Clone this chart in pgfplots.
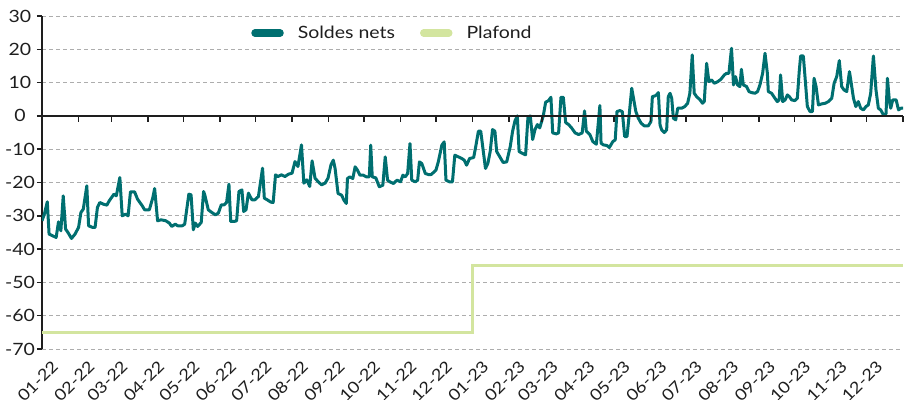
\documentclass[border=0pt]{standalone}
\usepackage{pgfplots}
\pgfplotsset{compat=1.18}
\usepackage{fontspec}
\setmainfont{Lato}[FakeStretch=1.15]
\definecolor{teal1}{HTML}{006F70}
\definecolor{plaf}{HTML}{D3E59F}
\definecolor{gridc}{HTML}{ADADAD}
\definecolor{txt}{HTML}{1E1E1E}
\begin{document}
\begin{tikzpicture}
\path[use as bounding box] (0,0) rectangle (912bp,400bp);
\begin{axis}[
  at={(42bp,51bp)}, anchor=south west,
  scale only axis, width=861bp, height=333bp,
  xmin=0, xmax=730, ymin=-70, ymax=30,
  axis y line*=left, axis x line*=bottom,
  x axis line style={draw=none},
  y axis line style={-, line width=1.5bp, color=txt},
  xtick={0,31,59,90,120,151,181,212,243,273,304,334,365,396,424,455,485,516,546,577,608,638,669,699},
  xticklabels={01-22,02-22,03-22,04-22,05-22,06-22,07-22,08-22,09-22,10-22,11-22,12-22,01-23,02-23,03-23,04-23,05-23,06-23,07-23,08-23,09-23,10-23,11-23,12-23},
  xtick style={draw=none},
  ytick={-70,-60,...,30},
  ytick style={line width=1.5bp, color=txt},
  ytick align=outside, major tick length=5bp,
  ymajorgrids,
  grid style={gridc, line width=0.8bp, dash pattern=on 4bp off 3bp},
  tick label style={font=\fontsize{17}{19}\selectfont, text=txt},
  /pgf/number format/assume math mode=true,
  yticklabel style={anchor=center, xshift=-17bp},
  xticklabel style={font=\fontsize{16}{18}\selectfont, xshift=9bp, yshift=-9bp, rotate=45, anchor=north east, inner sep=1bp},
  legend style={at={(rel axis cs:0.407,0.949)}, anchor=center, draw=none, fill=none,
    font=\fontsize{17}{19}\selectfont, text=txt, legend columns=2,
    /tikz/every odd column/.append style={column sep=12bp},
    /tikz/every even column/.append style={column sep=23bp}},
  legend image code/.code={\draw[#1, line width=7.5bp, line cap=round] (0bp,0bp) -- (25bp,0bp);},
]
\addplot[teal1, line width=3bp, line join=round] coordinates {
(0,-31.5) (2,-29.5) (4.5,-25.8) (6,-35.5) (9,-36) (12,-36.5) (14,-31.8) (16,-34.5) (18,-24) (20,-34)
(22,-35) (25,-36.8) (28,-35.5) (31,-33.5) (33,-29) (35,-28) (38,-21) (39.5,-33) (43,-33.5) (45,-33.5)
(47,-27.5) (49,-26) (52,-26.5) (55,-26.8) (57,-25.5) (61,-23.5) (63,-24) (66,-18.5) (68,-30) (71,-29.5)
(73,-30) (75,-22.8) (78.5,-22.8) (81,-25) (85,-27) (87,-28.2) (91,-28.2) (94,-24.5) (95.5,-21.8) (98,-31.5)
(101,-31.2) (105,-31.5) (108,-32.2) (110,-33.2) (113,-32.5) (115,-33) (119,-33) (121,-32.5) (124.5,-23.5) (126.4,-23.7)
(128.3,-34.2) (130,-32.2) (132,-33.2) (135,-32) (137,-22.7) (138,-23.7) (141,-28.2) (144,-29) (147,-29.7) (149.5,-29.2)
(152,-26.7) (154.5,-26.7) (156.5,-26) (158.5,-20.5) (160,-31.7) (163,-31.7) (165,-31.5) (167,-22.7) (169.5,-22.2) (171,-28.7)
(173,-28.2) (175,-23.2) (178,-25.2) (180.5,-25.2) (183.5,-24.2) (187,-15.7) (188.5,-24.7) (191,-25.2) (194,-25.9) (196,-26)
(198,-17.7) (200,-18.2) (203,-17.7) (206,-18.2) (209,-17.5) (212,-17.2) (214.5,-13.7) (217,-15.2) (220,-8.7) (222,-20.2)
(224.5,-19.2) (227,-21.2) (229,-13.5) (231.5,-18.7) (234,-19.7) (237,-20.7) (240,-20.2) (242.5,-18.7) (245,-14.7) (247,-13.3)
(248.5,-15.8) (251,-23.3) (254,-23.8) (256,-25.3) (258,-26.3) (259,-18.8) (261,-18.3) (263.5,-18.8) (265.5,-15.3) (267.5,-16.3)
(269.6,-17.8) (272.4,-17.8) (275,-18.3) (277.5,-18.3) (278.7,-8.8) (280,-18.3) (283,-18.6) (286,-21.3) (289,-20.8) (291,-12.3)
(293,-19.3) (295,-19.8) (298,-20.3) (301,-19.3) (304,-19.8) (306,-17.8) (308,-18.3) (310,-17.3) (312,-8.3) (313.5,-19.3)
(316.5,-19.8) (318.5,-19.3) (320,-13.8) (322,-14.3) (325,-17.3) (327.5,-17.6) (330,-17.6) (334,-16.3) (336,-13.8) (339,-8.8)
(341,-7.8) (342.5,-19.3) (345.5,-19.8) (348,-19.8) (350,-11.8) (353,-12.3) (356,-12.8) (358,-13.3) (360,-14.8) (362.5,-12.8)
(366,-12.5) (368,-8.7) (370,-4.6) (372,-4.6) (374,-10.2) (376,-15.8) (378,-14.3) (380,-10.7) (382,-4.1) (384,-4.6)
(385.5,-10.7) (388,-12.2) (391,-14) (394,-13.8) (397,-9.2) (399,-4.6) (401,-1.5) (403,0) (404.5,-10.7) (407,-11.2)
(410,-11.7) (412,-0.5) (414,0) (416,-7.1) (418,-4.1) (420,-2.6) (422,-3.6) (425,0) (427,4.1) (429.5,4.6)
(431.5,5.6) (433,-5.1) (436,-5.4) (438,-5.1) (440,5.6) (442,5.6) (444,-2) (446.5,-2.6) (449,-3.6) (452,-5.1)
(455,-5.6) (458,-5.1) (460,1.5) (461.5,-4.6) (464.5,-5.6) (467,-7.7) (470,-8.5) (473,3.1) (474,-8.2) (476,-8.7)
(479,-8.9) (481,-9.5) (484,-7.7) (486,-7.2) (487.5,1.3) (490,1.6) (492,1.3) (494,-6.2) (496,-6.2) (497.7,-0.2)
(500,8.3) (501.5,5.3) (503.5,1.3) (505.6,-0.7) (508,-2.2) (510.7,-3) (514,-3) (516.3,-1.7) (517.5,5.8) (519.7,6)
(521,6.3) (522.6,7) (524,-2.7) (525.4,-4.2) (527.6,-5) (529.6,-4.2) (531,5.8) (532.5,6.8) (533.9,5.3) (535.3,-0.7)
(537.3,-1.2) (539,2.3) (542.3,2.3) (545,2.8) (547.4,3.8) (549.3,6.8) (551.3,18.3) (553,6.8) (555,5.8) (558,4.8)
(560,3.8) (561.5,4.3) (563.5,15.8) (565.4,10.3) (567.7,10.8) (570,9.8) (573,10.3) (575.6,11) (578.5,12.3) (580.4,12.8)
(582.4,12.8) (584.6,20.3) (586.3,9.3) (588,11.8) (589.7,9.3) (591.7,8.8) (593,14) (594.6,9.3) (597.4,8.8) (599.4,7.3)
(601.6,7) (604.5,6.8) (606.7,7.3) (608.7,9.3) (611,12.8) (613,18.8) (615,12.8) (615.8,7.3) (618.6,6.8) (621.4,5.3)
(623.4,4.3) (625,4.8) (626.2,12.3) (628,4.3) (630,4.8) (632,6.3) (633.6,5.8) (635.6,4.8) (638.4,4.6) (640.4,5.3)
(642,13.3) (643.2,18) (645.5,18) (646.9,11.8) (648.9,2.8) (651.2,1.3) (653.2,1.3) (654.6,11.3) (656.3,8.8) (658.3,3.3)
(661.1,3.6) (664,3.8) (666.8,4.3) (669.6,5.3) (671.6,9.8) (673.8,11.8) (676,16.6) (678,8.8) (680,7.8) (682.3,7.3)
(684.6,13.3) (685.7,10.8) (688,5.3) (690,2.8) (692.1,4.3) (694.1,2.3) (696.4,1.8) (698.6,2.8) (700.6,3.3) (702.6,6.8)
(704.9,18) (707.1,7.8) (709.1,2.3) (711.1,1.8) (713.4,0.3) (715.6,0.6) (716.8,11.3) (718.5,4.3) (719.6,2.3) (721.3,4.8)
(724.2,4.8) (726.2,1.8) (728.2,2.3) (730,2.3)
};
\addlegendentry{Soldes nets}
\addplot[plaf, line width=3bp] coordinates {(0,-65) (365,-65) (365,-45) (730,-45)};
\addlegendentry{Plafond}
\end{axis}
\begin{axis}[
  at={(42bp,51bp)}, anchor=south west,
  scale only axis, width=861bp, height=333bp,
  xmin=0, xmax=730, ymin=-70, ymax=30,
  axis x line=middle, axis y line=none,
  x axis line style={-, line width=1.5bp, color=txt},
  xtick={0,31,59,90,120,151,181,212,243,273,304,334,365,396,424,455,485,516,546,577,608,638,669,699,730},
  xticklabels={}, ytick=\empty,
  hide obscured x ticks=false,
  xtick align=center, major tick length=6bp,
  xtick style={line width=1.5bp, color=txt, yshift=-3bp},
]
\end{axis}
\end{tikzpicture}
\end{document}
